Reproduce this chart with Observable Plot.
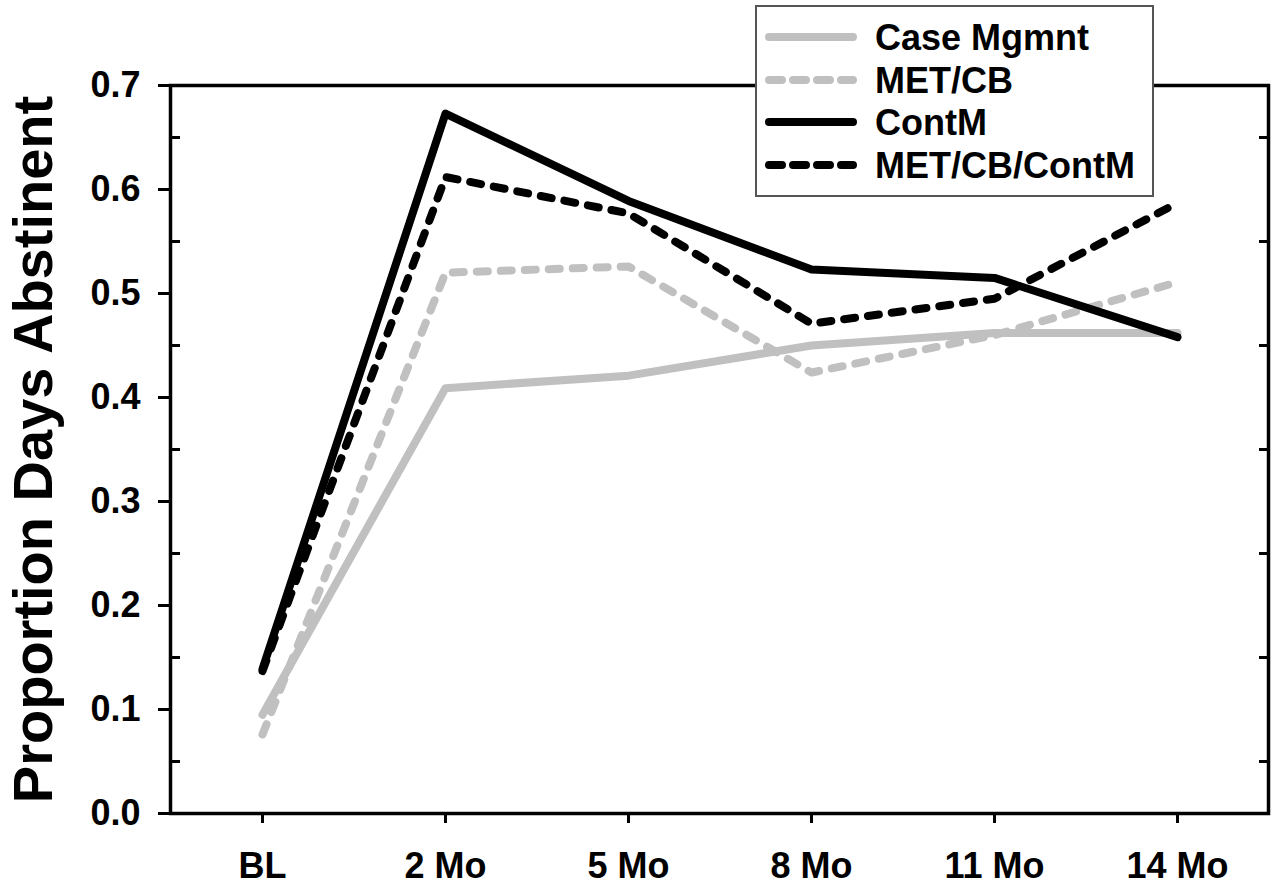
<!DOCTYPE html>
<html>
<head>
<meta charset="utf-8">
<script src="https://cdn.jsdelivr.net/npm/d3@7"></script>
<script src="https://cdn.jsdelivr.net/npm/@observablehq/plot@0.6"></script>
<style>
  html, body { margin: 0; padding: 0; background: #fff; }
  #wrap { position: relative; width: 1277px; height: 888px; font-family: "Liberation Sans", Arial, sans-serif; }
  #legend { position: absolute; left: 755px; top: 5px; width: 395px; height: 188px; border: 2px solid #555; background: #fff; }
</style>
</head>
<body>
<div id="wrap"></div>
<script>
const categories = ["BL", "2 Mo", "5 Mo", "8 Mo", "11 Mo", "14 Mo"];
const seriesNames = ["Case Mgmnt", "MET/CB", "ContM", "MET/CB/ContM"];
const caseMgmnt  = [0.095, 0.409, 0.421, 0.450, 0.462, 0.462];
const metCB      = [0.076, 0.520, 0.526, 0.424, 0.460, 0.511];
const contM      = [0.139, 0.673, 0.589, 0.523, 0.515, 0.458];
const metCBContM = [0.137, 0.612, 0.577, 0.471, 0.495, 0.587];
const yMajorTicks = [0, 0.1, 0.2, 0.3, 0.4, 0.5, 0.6, 0.7];
const yMinorTicks = [0.05, 0.15, 0.25, 0.35, 0.45, 0.55, 0.65];
const yLabel = "Proportion Days Abstinent";

const seriesValues = [caseMgmnt, metCB, contM, metCBContM];
const seriesStyle = [
  {stroke: "#c0c0c0", dash: null},
  {stroke: "#c0c0c0", dash: "11,13"},
  {stroke: "#000000", dash: null},
  {stroke: "#000000", dash: "11,13"}
];

const rows = seriesNames.map((name, i) => categories.map((c, j) => ({series: name, x: c, y: seriesValues[i][j]})));

const chart = Plot.plot({
  width: 1277,
  height: 888,
  marginLeft: 170,
  marginRight: 9,
  marginTop: 85,
  marginBottom: 75,
  style: {fontFamily: "'Liberation Sans', Arial, sans-serif", fontWeight: "bold", background: "#fff", color: "#000"},
  x: {type: "point", domain: categories, padding: 0.5},
  y: {domain: [0, 0.7]},
  marks: [
    Plot.axisX({tickSize: 10, tickPadding: 29, fontSize: 36, strokeWidth: 3, label: null}),
    Plot.axisY({ticks: yMajorTicks, tickSize: 12, tickPadding: 18, fontSize: 36, strokeWidth: 3, tickFormat: d3.format(".1f"), label: null}),
    Plot.axisY({ticks: yMinorTicks, tickSize: 10, insetLeft: 10, strokeWidth: 3, text: null, label: null}),
    Plot.axisY({anchor: "right", ticks: yMinorTicks, tickSize: 10, insetRight: 10, strokeWidth: 3, text: null, label: null}),
    Plot.frame({stroke: "#000", strokeWidth: 3.5}),
    ...rows.map((data, i) => Plot.line(data, {
      x: "x", y: "y",
      stroke: seriesStyle[i].stroke,
      strokeWidth: 8,
      strokeDasharray: seriesStyle[i].dash,
      strokeLinecap: "round",
      strokeLinejoin: "round"
    })),
    Plot.text([yLabel], {frameAnchor: "left", textAnchor: "middle", lineAnchor: "middle", rotate: -90, dx: -136, fontSize: 56, fontWeight: "bold"})
  ]
});

const wrap = document.getElementById("wrap");
wrap.appendChild(chart);

// Legend (HTML overlay)
const legend = d3.select(wrap).append("div").attr("id", "legend");
const lsvg = legend.append("svg").attr("width", 395).attr("height", 188);
const rowY = [30, 73, 115, 158];
seriesNames.forEach((name, i) => {
  lsvg.append("line")
    .attr("x1", 12).attr("x2", 96)
    .attr("y1", rowY[i]).attr("y2", rowY[i])
    .attr("stroke", seriesStyle[i].stroke)
    .attr("stroke-width", 8)
    .attr("stroke-linecap", "round")
    .attr("stroke-dasharray", seriesStyle[i].dash ? "13,11" : null);
  lsvg.append("text")
    .attr("x", 118).attr("y", rowY[i] + 13)
    .attr("font-family", "'Liberation Sans', Arial, sans-serif")
    .attr("font-weight", "bold")
    .attr("font-size", 36)
    .attr("fill", "#000")
    .text(name);
});
</script>
</body>
</html>
